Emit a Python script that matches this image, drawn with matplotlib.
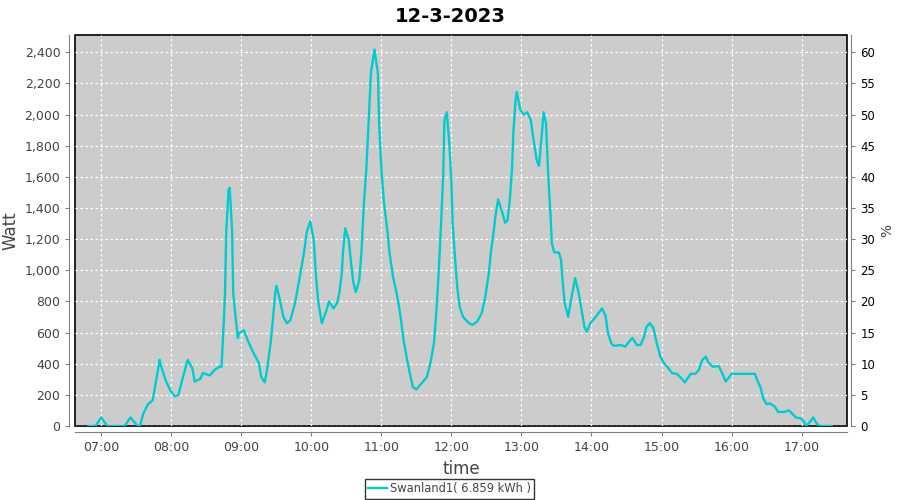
import matplotlib
matplotlib.use("Agg")
import matplotlib.pyplot as plt

times = [
    "06:49", "06:55", "07:00", "07:05", "07:10", "07:20", "07:25", "07:31", "07:33", "07:36",
    "07:40", "07:44", "07:47", "07:50", "07:51", "07:55", "07:59", "08:03", "08:06", "08:10",
    "08:14", "08:18", "08:20", "08:25", "08:27", "08:33", "08:37", "08:41", "08:43", "08:45",
    "08:46", "08:47", "08:49", "08:50", "08:52", "08:53", "08:55", "08:57", "08:58", "09:02",
    "09:06", "09:10", "09:15", "09:17", "09:20", "09:22", "09:25", "09:27", "09:29", "09:30",
    "09:33", "09:36", "09:39", "09:42", "09:46", "09:50", "09:54", "09:56", "09:59", "10:02",
    "10:04", "10:06", "10:09", "10:13", "10:15", "10:19", "10:22", "10:24", "10:26", "10:27",
    "10:29", "10:32", "10:34", "10:36", "10:38", "10:41", "10:43", "10:45", "10:47", "10:49",
    "10:51", "10:54", "10:57", "10:58", "11:00", "11:02", "11:05", "11:07", "11:10", "11:13",
    "11:16", "11:19", "11:22", "11:25", "11:27", "11:30", "11:35", "11:39", "11:42", "11:45",
    "11:47", "11:49", "11:51", "11:53", "11:54", "11:56", "11:58", "12:00", "12:01", "12:03",
    "12:05", "12:07", "12:10", "12:15", "12:18", "12:22", "12:26", "12:29", "12:32", "12:34",
    "12:36", "12:38", "12:40", "12:43", "12:46", "12:48", "12:50", "12:52", "12:53", "12:55",
    "12:56", "12:59", "13:02", "13:05", "13:08", "13:10", "13:13", "13:15", "13:17", "13:19",
    "13:21", "13:23", "13:25", "13:26", "13:28", "13:32", "13:34", "13:35", "13:37", "13:40",
    "13:43", "13:46", "13:49", "13:52", "13:54", "13:56", "13:59", "14:03", "14:06", "14:09",
    "14:12", "14:14", "14:17", "14:19", "14:25", "14:29", "14:32", "14:35", "14:39", "14:42",
    "14:45", "14:47", "14:50", "14:53", "14:56", "14:59", "15:02", "15:06", "15:09", "15:13",
    "15:16", "15:20", "15:25", "15:29", "15:32", "15:35", "15:38", "15:40", "15:44", "15:49",
    "15:52", "15:55", "15:57", "16:00", "16:07", "16:16", "16:20", "16:22", "16:25", "16:27",
    "16:30", "16:33", "16:37", "16:40", "16:45", "16:49", "16:52", "16:55", "16:59", "17:02",
    "17:04", "17:07", "17:10", "17:13", "17:16", "17:20", "17:26",
]
watts = [
    0, 0, 55, 0, 0, 0, 55, 0, 0, 80,
    140, 165, 295, 425, 390, 295, 230, 190, 200, 315,
    425, 370, 285, 305, 340, 325, 360, 380, 380, 680,
    855, 1240, 1515, 1530, 1260, 855, 700, 565, 595, 615,
    540, 475, 405, 315, 280, 360, 530, 680, 855, 900,
    810, 700, 660, 680, 790, 955, 1130, 1245, 1315, 1195,
    955, 790, 660, 745, 800, 755, 790, 855, 980, 1110,
    1270, 1195, 1045, 920, 860, 935, 1130, 1430, 1640, 1945,
    2265, 2418, 2265, 1945, 1645, 1450, 1260, 1110, 955, 855,
    725, 550, 425, 315, 250, 235, 280, 315, 405, 530,
    725, 980, 1280, 1625, 1965, 2015, 1835, 1560, 1305, 1085,
    890, 765, 700, 660, 650, 670, 725, 830, 980, 1130,
    1240, 1365, 1455, 1385, 1305, 1320, 1450, 1665, 1880, 2095,
    2145, 2030, 2000, 2015, 1965, 1855, 1710, 1670, 1835, 2015,
    1945, 1600, 1340, 1175, 1115, 1115, 1065, 955, 790, 700,
    830, 950, 855, 725, 635, 605, 660, 695, 725, 755,
    710, 600, 530, 515, 520, 510, 540, 565, 520, 520,
    570, 635, 660, 630, 530, 445, 405, 370, 340, 335,
    315, 280, 335, 335, 360, 425, 445, 410, 380, 385,
    340, 285, 305, 335, 335, 335, 335, 295, 245, 180,
    140, 145, 125, 90, 90, 100, 80, 55, 50, 30,
    0, 25, 55, 15, 0, 0, 0,
]
hour_ticks = ["07:00", "08:00", "09:00", "10:00", "11:00", "12:00",
              "13:00", "14:00", "15:00", "16:00", "17:00"]
watt_ticks = [0, 200, 400, 600, 800, 1000, 1200, 1400, 1600, 1800, 2000, 2200, 2400]
pct_ticks = [0, 5, 10, 15, 20, 25, 30, 35, 40, 45, 50, 55, 60]
series_name = "Swanland1( 6.859 kWh )"


def to_hours(s):
    h, m = s.split(":")
    return int(h) + int(m) / 60


x = [to_hours(t) for t in times]
tick_color = "#444444"

fig = plt.figure(figsize=(9, 5), dpi=100)
ax = fig.add_axes([75 / 900, 1 - 426 / 500, (847 - 75) / 900, (426 - 35) / 500])
ax.set_facecolor("#cccccc")
ax.patch.set_edgecolor("black")
ax.patch.set_linewidth(1.2)

line, = ax.plot(x, watts, color="#00cccc", lw=1.7, label=series_name)

ax.set_xlim(6.624, 17.649)
ax.set_ylim(0, 2511)
ax.set_xticks([to_hours(t) for t in hour_ticks])
ax.set_xticklabels(hour_ticks)
ax.set_yticks(watt_ticks)
ax.set_yticklabels([f"{v:,}" for v in watt_ticks])
ax.grid(True, color="white", linestyle=(0, (2, 2)), lw=0.9)

for side in ["top", "right"]:
    ax.spines[side].set_visible(False)
for side in ["left", "bottom"]:
    ax.spines[side].set_position(("outward", 4))
    ax.spines[side].set_color("#808080")
ax.tick_params(colors="#808080", labelcolor=tick_color, labelsize=9, length=3)

ax2 = ax.twinx()
ax2.set_ylim(0, 2511 / 40)
ax2.set_yticks(pct_ticks)
for side in ["top", "left", "bottom"]:
    ax2.spines[side].set_visible(False)
ax2.spines["right"].set_position(("outward", 3))
ax2.spines["right"].set_color("#808080")
ax2.tick_params(colors="#808080", labelcolor="black", labelsize=8.5, length=3)

ax.set_ylabel("Watt", fontsize=12, color=tick_color)
ax.yaxis.set_label_coords(-0.072, 0.5)
ax2.set_ylabel("%", fontsize=10, color=tick_color)
ax2.yaxis.set_label_coords(1.043, 0.5)
ax.set_xlabel("time", fontsize=12, color=tick_color)
ax.xaxis.set_label_coords(0.5, -0.087)
fig.suptitle("12-3-2023", fontsize=14, fontweight="bold", y=0.985)

leg = fig.legend(handles=[line], loc="lower center", bbox_to_anchor=(0.4995, 0.003),
                 fancybox=False, edgecolor="black", fontsize=8.3, handlelength=1.6,
                 borderpad=0.3, handletextpad=0.3, borderaxespad=0.0)
leg.get_frame().set_linewidth(1.0)
for t in leg.get_texts():
    t.set_color(tick_color)

fig.savefig("out.png", dpi=100)
